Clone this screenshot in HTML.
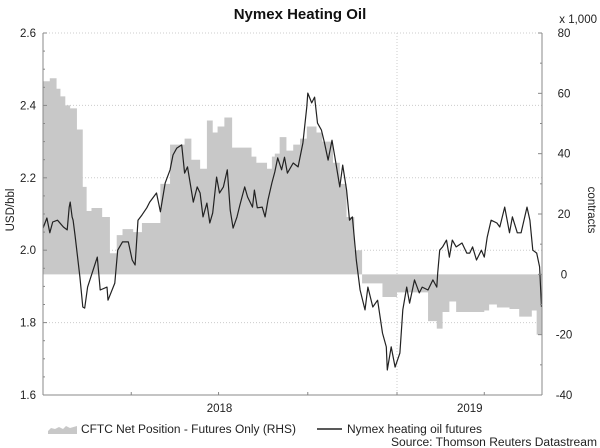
<!DOCTYPE html>
<html><head><meta charset="utf-8"><style>
body{margin:0;background:#fff;}
svg{display:block;font-family:"Liberation Sans",Arial,sans-serif;}
</style></head><body>
<svg id="chart" width="600" height="448" viewBox="0 0 600 448">
<text x="300" y="19" text-anchor="middle" font-size="15" font-weight="bold" fill="#111">Nymex Heating Oil</text>
<text x="597" y="23" text-anchor="end" font-size="11.5" fill="#222">x 1,000</text>
<g id="grid"></g>
<g id="area"></g>
<g id="line"></g>
<g id="axes"></g>
<text transform="translate(14,210) rotate(-90)" text-anchor="middle" font-size="11.5" fill="#222">USD/bbl</text>
<text transform="translate(588,210) rotate(90)" text-anchor="middle" font-size="11.5" fill="#222">contracts</text>
<g>
<path d="M48,431 L51,428 L55,429 L59,427 L63,429 L66,426 L70,428 L77,426 L77,434 L48,434 Z" fill="#c8c8c8"/>
<text x="81" y="433" font-size="11.5" textLength="215" lengthAdjust="spacingAndGlyphs" fill="#222">CFTC Net Position - Futures Only (RHS)</text>
<line x1="317" y1="429" x2="342" y2="429" stroke="#222" stroke-width="1.5"/>
<text x="347" y="433" font-size="11.5" textLength="135" lengthAdjust="spacingAndGlyphs" fill="#222">Nymex heating oil futures</text>
</g>
<text x="597" y="446" text-anchor="end" font-size="11.5" textLength="206" lengthAdjust="spacingAndGlyphs" fill="#222">Source: Thomson Reuters Datastream</text>
</svg>
<script>
const priceDays=[0,4,7,10,15,21,25,27,28,30,31,33,38,41,43,46,54,56,59,66,67,74,77,82,88,92,95,98,102,107,110,117,121,126,131,134,138,143,146,149,155,159,162,165,169,172,175,179,182,186,190,193,196,200,203,208,211,216,218,221,226,229,232,236,239,242,246,249,252,258,263,268,272,273,277,280,283,287,290,294,298,301,306,309,313,316,319,323,327,332,335,340,345,350,354,355,359,363,368,371,375,378,383,388,391,397,402,406,407,409,412,416,419,422,426,432,437,440,443,447,452,455,458,462,468,471,476,481,484,489,493,499,502,505,509,512,514];
const priceVals=[2.061,2.089,2.048,2.078,2.083,2.064,2.056,2.119,2.133,2.092,2.083,2.042,1.926,1.843,1.840,1.898,1.965,1.981,1.890,1.898,1.862,1.909,2.000,2.023,2.023,1.973,1.959,2.083,2.097,2.117,2.133,2.158,2.106,2.186,2.222,2.263,2.282,2.291,2.213,2.230,2.133,2.175,2.158,2.092,2.130,2.075,2.103,2.202,2.158,2.175,2.222,2.111,2.061,2.092,2.125,2.175,2.147,2.119,2.166,2.117,2.119,2.092,2.139,2.186,2.216,2.255,2.222,2.257,2.213,2.241,2.230,2.296,2.396,2.434,2.407,2.423,2.351,2.332,2.299,2.249,2.304,2.257,2.175,2.235,2.166,2.083,2.092,1.973,1.890,1.835,1.898,1.843,1.862,1.771,1.733,1.669,1.733,1.677,1.716,1.835,1.898,1.854,1.918,1.882,1.898,1.890,1.918,1.898,1.937,2.000,2.009,2.028,1.981,2.028,2.009,2.020,1.992,1.992,2.009,1.973,2.000,1.981,2.036,2.083,2.075,2.064,2.119,2.048,2.092,2.048,2.048,2.119,2.083,2.000,1.992,1.954,1.843];
const netDays=[0,7,14,18,23,28,35,41,45,50,61,69,76,82,93,102,121,131,146,153,162,169,175,180,187,195,215,220,231,236,239,244,251,258,265,272,282,288,299,306,313,321,329,350,365,383,397,406,412,419,426,455,460,468,481,491,504,509];
const netVals=[64,65,61.5,59,56,55,48,29,21,22,19,7,13,15,14,17,30,43,45,38,35,51,47,49,52,42,39,37,35,39,40,45.5,41,43,45,49,47,44,37,30,19,8,-3,-7.5,-6,-6,-15.5,-18,-12.5,-9,-12.5,-12,-10,-11,-11.5,-14,-12,-20];
const endDay=514;
const leftTicks=[1.6,1.8,2.0,2.2,2.4,2.6];
const rightTicks=[-40,-20,0,20,40,60,80];
const yearLabels=["2018","2019"];
const yearMid=[182,440];

const X0=43,X1=542,T=33,B=395;
const xS=d=>X0+d*(354/365);
const yL=v=>T+(2.6-v)/1.0*(B-T);
const yR=v=>T+(80-v)/120*(B-T);
const NS="http://www.w3.org/2000/svg";
function mk(tag,attrs,parent){const e=document.createElementNS(NS,tag);for(const k in attrs)e.setAttribute(k,attrs[k]);document.getElementById(parent).appendChild(e);return e;}

leftTicks.forEach(v=>{
  if(v>1.6){const g=mk('line',{x1:X0,x2:X1,y1:yL(v),y2:yL(v),stroke:'#ccc','stroke-dasharray':'1,2'},'grid');
  
  }
});
const vg=mk('line',{x1:xS(365),x2:xS(365),y1:T,y2:B,stroke:'#ccc','stroke-dasharray':'1,2'},'grid');



let d='M'+xS(netDays[0])+','+yR(0);
for(let i=0;i<netDays.length;i++){
  const xa=xS(netDays[i]),xb=xS(i+1<netDays.length?netDays[i+1]:endDay);
  d+=' L'+xa+','+yR(netVals[i])+' L'+xb+','+yR(netVals[i]);
}
d+=' L'+xS(endDay)+','+yR(0)+' Z';
const ar=mk('path',{d:d,fill:'#c8c8c8',stroke:'none'},'area');



const pts=priceDays.map((dd,i)=>xS(dd).toFixed(1)+','+yL(priceVals[i]).toFixed(1)).join(' ');
const pl=mk('polyline',{points:pts,fill:'none',stroke:'#222','stroke-width':1.2,'stroke-linejoin':'round'},'line');



mk('line',{x1:X0,x2:X0,y1:T,y2:B,stroke:'#888'},'axes');
mk('line',{x1:X1,x2:X1,y1:T,y2:B,stroke:'#888'},'axes');
mk('line',{x1:X0,x2:X1,y1:B,y2:B,stroke:'#888'},'axes');
for(let v=1.6;v<=2.601;v+=0.05){mk('line',{x1:X0,x2:X0+(Math.abs(v*5-Math.round(v*5))<0.01?4:2),y1:yL(v),y2:yL(v),stroke:'#888'},'axes');}
for(let v=-40;v<=80;v+=10){mk('line',{x1:X1,x2:X1-(v%20===0?4:2),y1:yR(v),y2:yR(v),stroke:'#888'},'axes');}
leftTicks.forEach(v=>{
  const t=mk('text',{x:36,y:yL(v)+4,'text-anchor':'end','font-size':11.5,fill:'#222'},'axes');
  t.textContent=v.toFixed(1);
  
  
});
rightTicks.forEach(v=>{
  const t=mk('text',{x:564,y:yR(v)+4,'text-anchor':'middle','font-size':11.5,fill:'#222'},'axes');
  t.textContent=String(v);
  
  
});
[0,91,181,273,365,455].forEach(dd=>{mk('line',{x1:xS(dd),x2:xS(dd),y1:B,y2:B-3,stroke:'#888'},'axes');});
yearLabels.forEach((lab,i)=>{
  const t=mk('text',{x:xS(yearMid[i]),y:412,'text-anchor':'middle','font-size':11.5,fill:'#222'},'axes');
  t.textContent=lab;
  
  
});
</script>
</body></html>
